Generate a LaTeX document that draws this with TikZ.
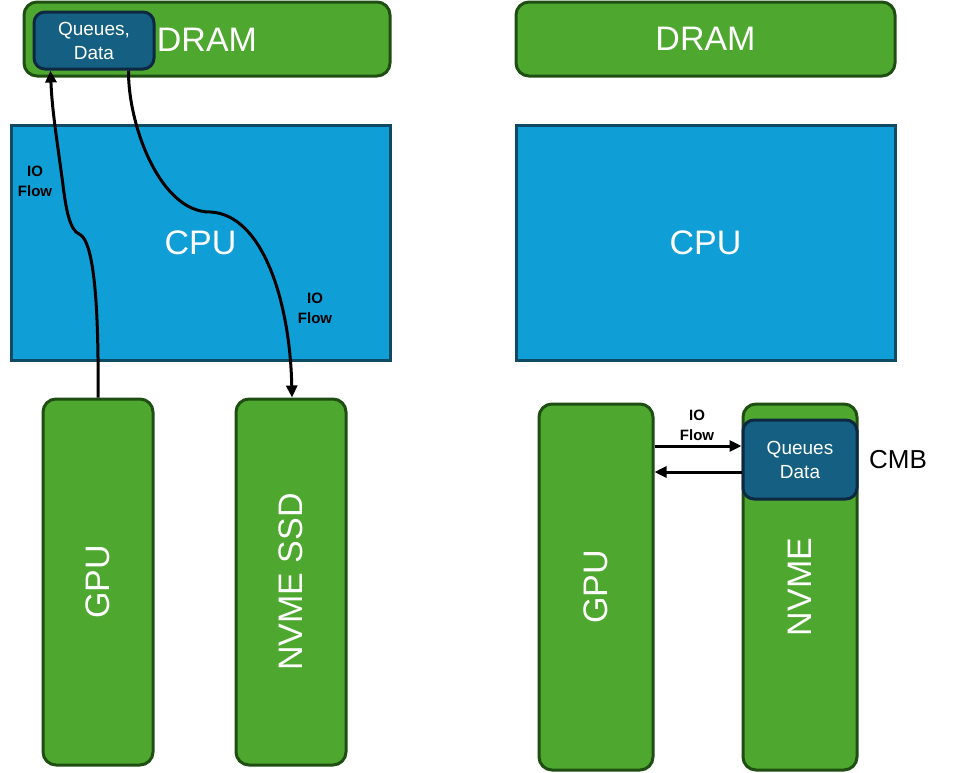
\documentclass[tikz,border=0pt]{standalone}
\usepackage{fontspec}
\setmainfont{Liberation Sans}
\usetikzlibrary{arrows.meta,calc}
\definecolor{boxgreen}{HTML}{4EA72E}
\definecolor{edgegreen}{HTML}{1E4E12}
\definecolor{cpublue}{HTML}{0F9ED5}
\definecolor{cpuedge}{HTML}{0E4A64}
\definecolor{qblue}{HTML}{156082}
\definecolor{qedge}{HTML}{0E2841}
\begin{document}
\begin{tikzpicture}[x=1pt,y=-1pt,
  greenbox/.style={draw=edgegreen,fill=boxgreen,line width=3pt,rounded corners=13pt,
    text=white,font=\fontsize{34}{36}\selectfont,inner sep=0pt},
  cpubox/.style={draw=cpuedge,fill=cpublue,line width=3pt,
    text=white,font=\fontsize{34}{36}\selectfont,inner sep=0pt},
  qbox/.style={draw=qedge,fill=qblue,line width=3pt,rounded corners=11pt,
    text=white,font=\fontsize{19}{24}\selectfont,align=center,inner sep=0pt},
  biglabel/.style={text=white,font=\fontsize{34}{36}\selectfont},
  flowlabel/.style={font=\bfseries\fontsize{15}{20}\selectfont,align=center},
  flow/.style={line width=3pt,-{Triangle[length=12pt,width=11pt]}}]
\useasboundingbox (0,0) rectangle (956,772);

% left system: host memory holds the queues
\node[greenbox,minimum width=366pt,minimum height=74pt] (dram1) at (207,39) {};
\node[biglabel] (dramlabel1) at (207,40) {DRAM};
\node[qbox,minimum width=120pt,minimum height=57pt] (qd1) at (94,40.5) {Queues,\\Data};
\node[cpubox,minimum width=379pt,minimum height=235pt] (cpu1) at (200.5,242.5) {CPU};
\node[greenbox,minimum width=110pt,minimum height=366pt] (gpu1) at (98,582) {};
\node[biglabel,rotate=90] (gpulabel1) at (98,582) {GPU};
\node[greenbox,minimum width=110pt,minimum height=366pt] (ssd1) at (291,582) {};
\node[biglabel,rotate=90] (ssdlabel1) at (291,582) {NVME SSD};

\coordinate (qin1) at ([xshift=18pt]qd1.south west);
\coordinate (qout1) at ([xshift=-27pt]qd1.south east);
\draw[flow] (gpu1.north) -- ++(0,-40) .. controls (97,275) and (90,238) .. (79,234)
  .. controls (70,230) and (66,210) .. (63,185)
  .. controls (57,140) and (52,110) .. (qin1);
\draw[flow] (qout1) .. controls (128,125) and (160,212) .. (210,212)
  .. controls (262,214) and (290,300) .. (ssd1.north -| 292,0);
\node[flowlabel] (flowl1) at (35,181) {IO\\Flow};
\node[flowlabel] (flowl2) at (315,308) {IO\\Flow};

% right system: queues live in the controller memory buffer
\node[greenbox,minimum width=379pt,minimum height=74pt] (dram2) at (705.5,39) {DRAM};
\node[cpubox,minimum width=379pt,minimum height=235pt] (cpu2) at (705.5,242.5) {CPU};
\node[greenbox,minimum width=114pt,minimum height=366pt] (gpu2) at (596,587) {};
\node[biglabel,rotate=90] (gpulabel2) at (596,587) {GPU};
\node[greenbox,minimum width=114pt,minimum height=366pt] (nvme2) at (800,587) {};
\node[biglabel,rotate=90] (nvmelabel2) at (800,587) {NVME};
\node[qbox,minimum width=114pt,minimum height=79pt] (qd2) at (800,459.5) {Queues\\Data};
\node[font=\fontsize{26}{28}\selectfont] (cmb) at (898,460) {CMB};

\draw[flow] (gpu2.east |- 0,446) -- (qd2.west |- 0,446);
\draw[flow] (qd2.west |- 0,472) -- (gpu2.east |- 0,472);
\node[flowlabel] (flowl3) at (697,425) {IO\\Flow};
\end{tikzpicture}
\end{document}
